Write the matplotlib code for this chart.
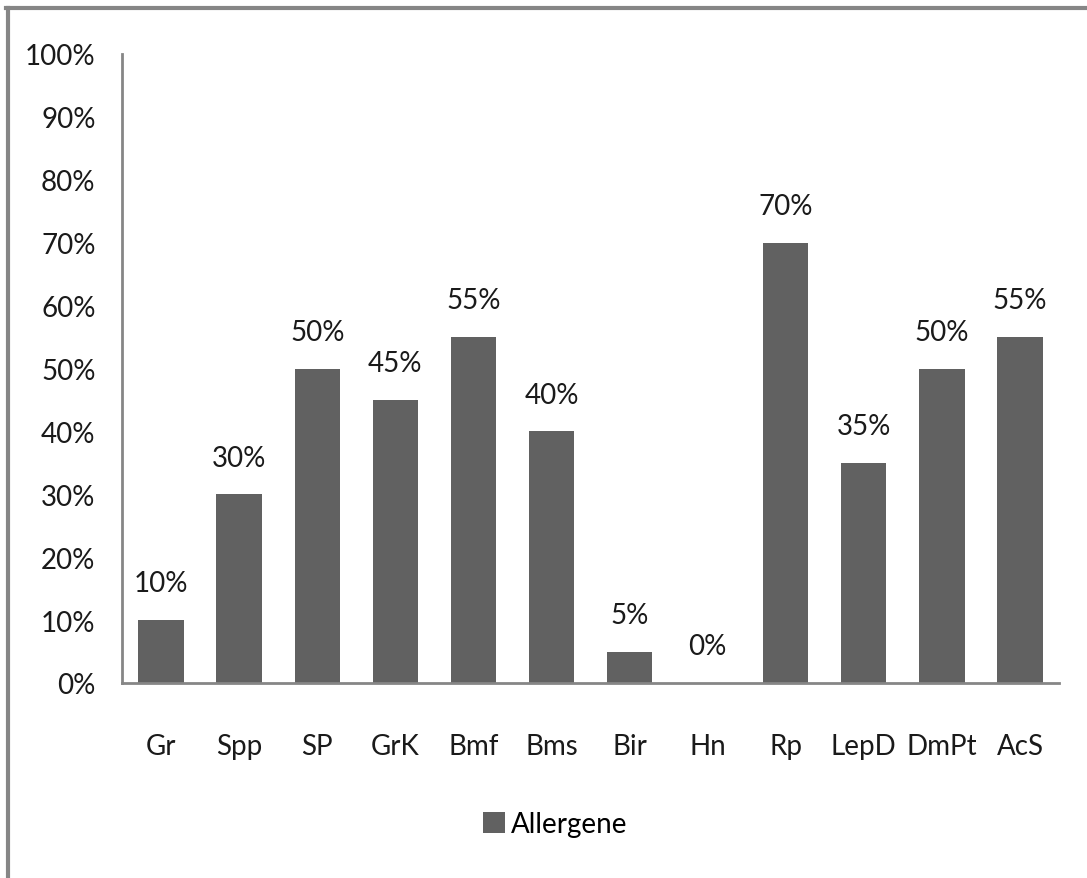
import matplotlib
matplotlib.use("Agg")
import matplotlib.pyplot as plt
from matplotlib.lines import Line2D
from matplotlib.ticker import FuncFormatter

categories = ["Gr", "Spp", "SP", "GrK", "Bmf", "Bms", "Bir", "Hn", "Rp", "LepD", "DmPt", "AcS"]
values = [10, 30, 50, 45, 55, 40, 5, 0, 70, 35, 50, 55]
series_name = "Allergene"

plt.rcParams["font.family"] = ["Lato", "DejaVu Sans"]

W, H = 1087, 879
fig = plt.figure(figsize=(W / 100, H / 100), dpi=100)
fig.patch.set_facecolor("white")

# chart-area frame (left and top edges)
fig.add_artist(Line2D([7.5 / W, 7.5 / W], [0, 1 - 8.5 / H], transform=fig.transFigure,
                      color="#868686", lw=3))
fig.add_artist(Line2D([6 / W, 1], [1 - 8.5 / H, 1 - 8.5 / H], transform=fig.transFigure,
                      color="#868686", lw=3))

left, right = 122 / W, 1059 / W
bottom, top = 1 - 684 / H, 1 - 55 / H
ax = fig.add_axes([left, bottom, right - left, top - bottom])

x = range(len(categories))
bars = ax.bar(x, values, width=0.58, color="#616161", label=series_name)

for xi, v in zip(x, values):
    ax.annotate(f"{v}%", (xi, v), xytext=(0, 17), textcoords="offset points",
                ha="center", va="bottom", fontsize=20, color="#1a1a1a")

ax.set_xlim(-0.5, len(categories) - 0.5)
ax.set_ylim(0, 100)
ax.set_yticks(range(0, 101, 10))
ax.yaxis.set_major_formatter(FuncFormatter(lambda v, p: f"{int(v)}%"))
ax.set_xticks(list(x))
ax.set_xticklabels(categories)

for s in ("top", "right"):
    ax.spines[s].set_visible(False)
for s in ("left", "bottom"):
    ax.spines[s].set_color("#868686")
    ax.spines[s].set_linewidth(2)

ax.tick_params(axis="y", length=0, pad=19, labelsize=20, labelcolor="#1a1a1a")
ax.tick_params(axis="x", length=0, pad=36, labelsize=20, labelcolor="#1a1a1a")

fig.legend(handles=[bars], labels=[series_name], loc="center",
           bbox_to_anchor=(555 / W, 1 - 825 / H), frameon=False, fontsize=20,
           handlelength=0.8, handleheight=0.8, handletextpad=0.2)

fig.savefig("out.png", dpi=100, facecolor="white")
